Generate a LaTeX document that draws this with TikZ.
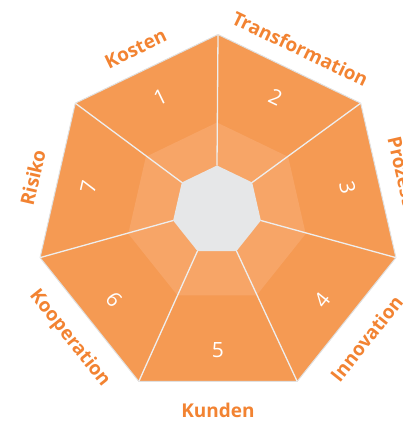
\documentclass[tikz,border=0pt]{standalone}
\usepackage{fontspec}
\setmainfont{Open Sans}
\usetikzlibrary{shapes.geometric}

\definecolor{sectorfill}{HTML}{F59A53}
\definecolor{ringfill}{HTML}{F7A567}
\definecolor{hubfill}{HTML}{E6E7E8}
\definecolor{labelcol}{HTML}{F28332}
\definecolor{spokecol}{HTML}{EEEEEE}

\begin{document}
\begin{tikzpicture}[x=1pt, y=1pt,
    hept/.style={regular polygon, regular polygon sides=7, inner sep=0pt, outer sep=0pt},
    spoke/.style={draw=spokecol, line width=1.3pt},
    nr/.style={text=white, font=\fontsize{21}{21}\selectfont},
    lbl/.style={text=labelcol, font=\bfseries\fontsize{19}{19}\selectfont}]
    \useasboundingbox (-218,-204) rectangle (185,217);
    \node[hept, minimum size=365pt, fill=sectorfill, draw=black!12, line width=1pt] (outer) at (0,0) {};
    \node[hept, minimum size=182pt, fill=ringfill] (ring) at (-1,3.5) {};
    \node[hept, minimum size=90pt, fill=hubfill] (hub) at (-1,6.5) {};
    \draw[spoke]
      (hub.corner 1) -- (outer.corner 1)
      (hub.corner 2) -- (outer.corner 2)
      (hub.corner 3) -- (outer.corner 3)
      (hub.corner 4) -- (outer.corner 4)
      (hub.corner 5) -- (outer.corner 5)
      (hub.corner 6) -- (outer.corner 6)
      (hub.corner 7) -- (outer.corner 7);
    % sector numbers
    \node[nr, rotate=25.7] (n1) at (115.7:133) {1};
    \node[nr, rotate=-25.7] (n2) at (64.3:133) {2};
    \node[nr, rotate=-77.1] (n3) at (12.9:133) {3};
    \node[nr, rotate=51.4] (n4) at (-38.6:133) {4};
    \node[nr] (n5) at (-90:133) {5};
    \node[nr, rotate=-51.4] (n6) at (-141.4:133) {6};
    \node[nr, rotate=77.1] (n7) at (167.1:133) {7};
    % labels
    \node[lbl, rotate=25.7] (kosten) at ([shift={(0,-3)}]115.7:190) {Kosten};
    \node[lbl, rotate=-25.7] (transf) at ([shift={(0,-3)}]64.3:190) {Transformation};
    \node[lbl, rotate=-77.1] (prozesse) at ([shift={(0,-3)}]12.9:190) {Prozesse};
    \node[lbl, rotate=51.4] (innov) at ([shift={(0,-3)}]-38.6:190) {Innovation};
    \node[lbl] (kunden) at ([shift={(0,-3)}]-90:190) {Kunden};
    \node[lbl, rotate=-51.4] (koop) at ([shift={(0,-3)}]-141.4:190) {Kooperation};
    \node[lbl, rotate=77.1] (risiko) at ([shift={(0,-3)}]167.1:190) {Risiko};
\end{tikzpicture}
\end{document}
